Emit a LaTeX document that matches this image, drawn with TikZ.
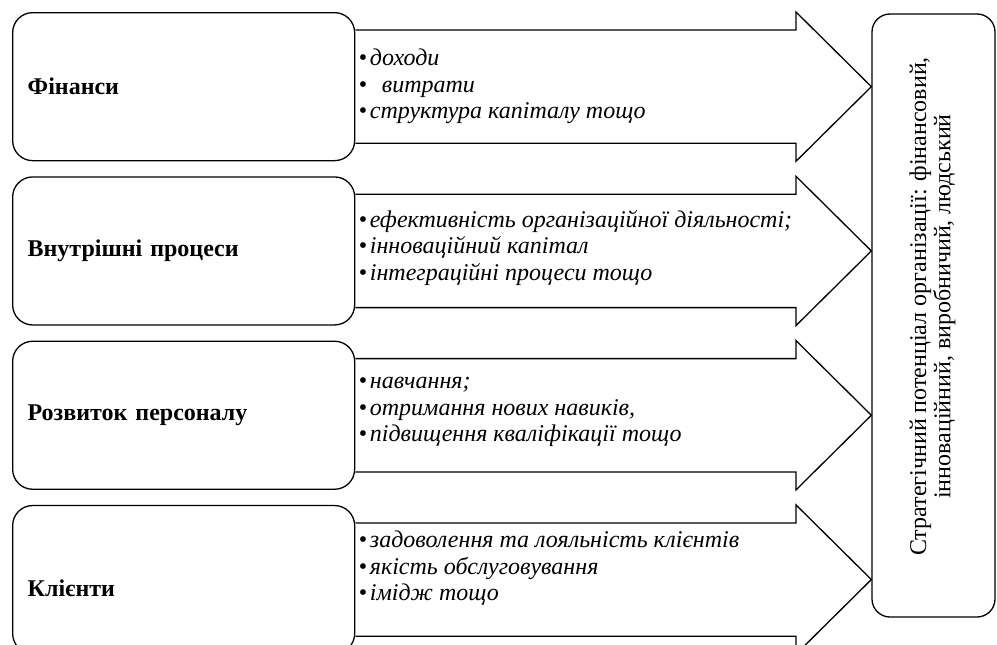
\documentclass[tikz,border=0pt]{standalone}
\usepackage{fontspec}
\setmainfont{Liberation Serif}
\usetikzlibrary{positioning,calc}
\tikzset{
  lbox/.style   = {draw=black, rounded corners=20pt, line width=1.3pt, fill=white,
                   minimum height=148pt, text width=312pt, align=left,
                   inner xsep=15pt, font=\fontsize{24}{26}\selectfont\bfseries},
  items/.style  = {align=left, inner sep=0pt, font=\fontsize{24}{26.5}\selectfont\itshape},
  barrow/.style = {draw=black, line width=1.3pt, line join=miter},
  tbox/.style   = {draw=black, rounded corners=18pt, line width=1.3pt, fill=white,
                   minimum width=123pt, minimum height=603pt, inner sep=0pt,
                   font=\fontsize{24}{23.5}\selectfont},
}
\begin{document}
\begin{tikzpicture}[x=1pt, y=-1pt, node distance=15pt]
  \useasboundingbox (0,0) rectangle (997,645);
  \node[tbox] (pot) at (933.5,315.5) {\rotatebox{90}{\hspace{18pt}\begin{tabular}{@{}c@{}}Стратегічний потенціал організації: фінансовий,\\ інноваційний, виробничий, людський\end{tabular}}};
  \node[lbox, anchor=north west] (fin) at (12,12) {Фінанси};
  \node[lbox, below=of fin] (proc) {Внутрішні процеси};
  \node[lbox, below=of proc] (pers) {Розвиток персоналу};
  \node[lbox, below=of pers, text height=33pt, text depth=0pt] (cli) {Клієнти};
  \coordinate (hb) at (796,0);
  % block arrows towards the potential box
  \draw[barrow] ($(fin.north east)+(0,18)$) -- ($(hb |- fin.north)+(0,18)$) -- (hb |- fin.north)
    -- (pot.west |- fin.center) -- (hb |- fin.south) -- ($(hb |- fin.south)+(0,-18)$) -- ($(fin.south east)+(0,-18)$);
  \draw[barrow] ($(proc.north east)+(0,18)$) -- ($(hb |- proc.north)+(0,18)$) -- (hb |- proc.north)
    -- (pot.west |- proc.center) -- (hb |- proc.south) -- ($(hb |- proc.south)+(0,-18)$) -- ($(proc.south east)+(0,-18)$);
  \draw[barrow] ($(pers.north east)+(0,18)$) -- ($(hb |- pers.north)+(0,18)$) -- (hb |- pers.north)
    -- (pot.west |- pers.center) -- (hb |- pers.south) -- ($(hb |- pers.south)+(0,-18)$) -- ($(pers.south east)+(0,-18)$);
  \draw[barrow] ($(cli.north east)+(0,18)$) -- ($(hb |- cli.north)+(0,18)$) -- (hb |- cli.north)
    -- (pot.west |- cli.center) -- (hb |- cli.south) -- ($(hb |- cli.south)+(0,-18)$) -- ($(cli.south east)+(0,-18)$);
  % lists
  \node[items, anchor=west] (finl) at ([xshift=3pt,yshift=0pt]fin.east)
    {\textbullet\hspace{3pt}доходи\\ \textbullet\hspace{15pt}витрати\\ \textbullet\hspace{3pt}структура капіталу тощо};
  \node[items, anchor=west] (procl) at ([xshift=3pt,yshift=3pt]proc.east)
    {\textbullet\hspace{3pt}ефективність організаційної діяльності;\\ \textbullet\hspace{3pt}інноваційний капітал\\ \textbullet\hspace{3pt}інтеграційні процеси тощо};
  \node[items, anchor=west] (persl) at ([xshift=3pt,yshift=3pt]pers.east)
    {\textbullet\hspace{3pt}навчання;\\ \textbullet\hspace{3pt}отримання нових навиків,\\ \textbullet\hspace{3pt}підвищення кваліфікації тощо};
  \node[items, anchor=west] (clil) at ([xshift=3pt,yshift=11pt]cli.east)
    {\textbullet\hspace{3pt}задоволення та лояльність клієнтів\\ \textbullet\hspace{3pt}якість обслуговування\\ \textbullet\hspace{3pt}імідж тощо};
\end{tikzpicture}
\end{document}
